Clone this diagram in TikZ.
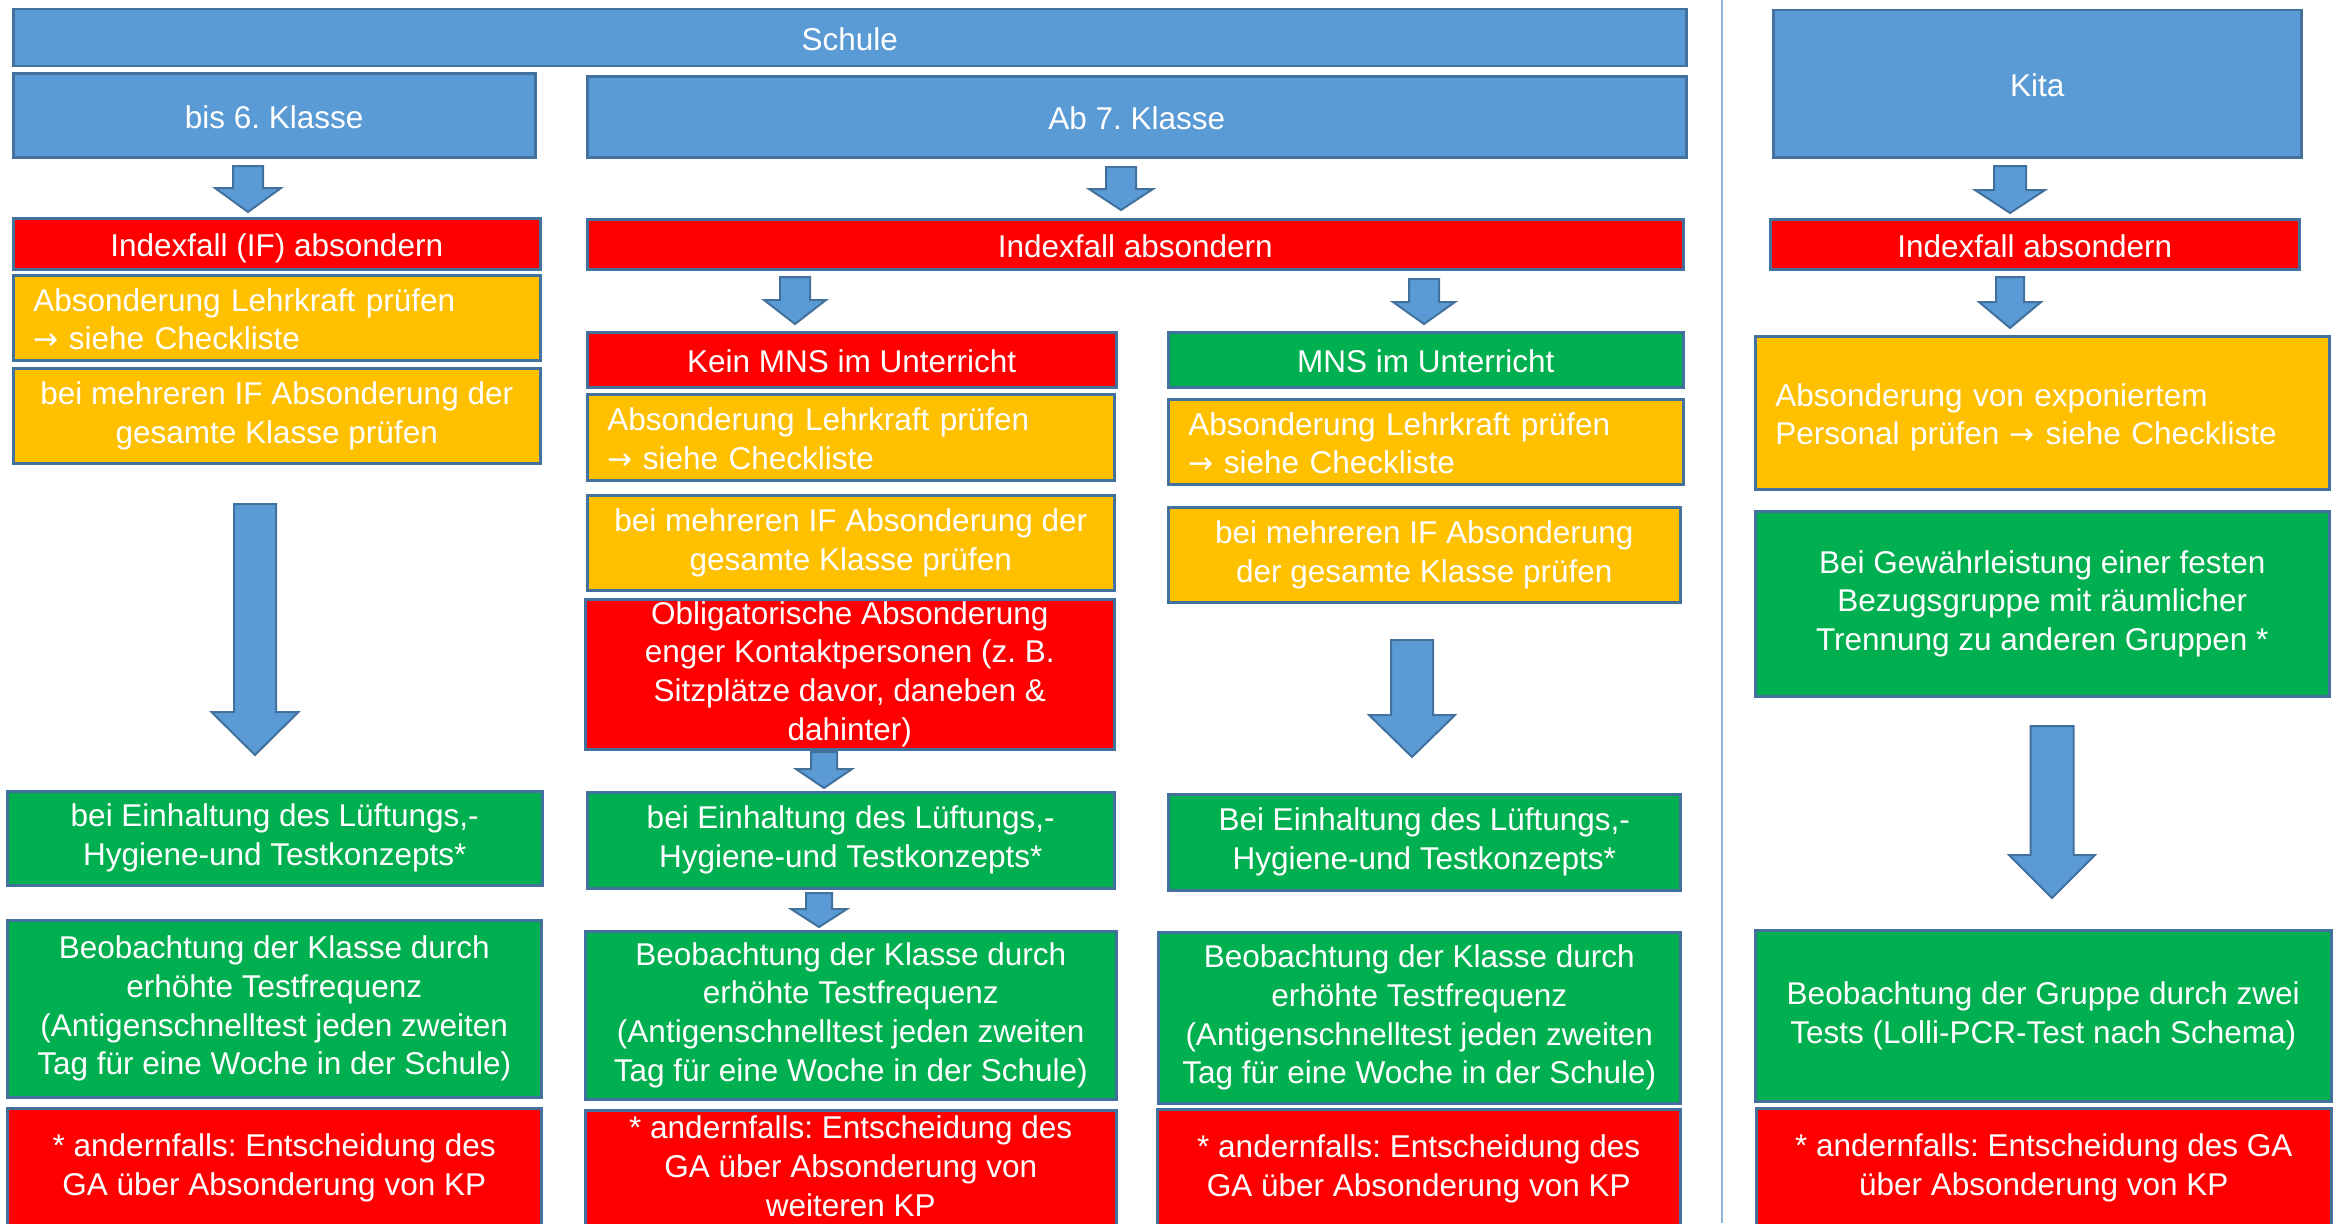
\documentclass[tikz,border=0pt]{standalone}
\usepackage{fontspec}
\setmainfont{Liberation Sans}
\newfontfamily\symfont{DejaVu Sans}
\newcommand\rarr{{\symfont\fontsize{30}{38.7}\selectfont →}}
\newcommand\pptstruttop{\vrule height 1.03em depth 0pt width 0pt\relax}
\newcommand\pptstrutbot{\vrule height 0pt depth 0.212em width 0pt\relax}
\definecolor{bblue}{HTML}{5B9BD5}
\definecolor{bord}{HTML}{41719C}
\definecolor{bred}{HTML}{FF0000}
\definecolor{borange}{HTML}{FFC000}
\definecolor{bgreen}{HTML}{00B050}
\definecolor{sepc}{HTML}{8FB4E0}
\newcommand\dnarrow[6]{%
  \draw[blockarrow] ({#1-#5},#2) -- ({#1+#5},#2) -- ({#1+#5},#3) -- ({#1+#6},#3)
    -- (#1,#4) -- ({#1-#6},#3) -- ({#1-#5},#3) -- cycle;}
\begin{document}
\begin{tikzpicture}[x=1pt,y=-1pt,
  box/.style={draw=bord, line width=2.5pt, text=white, inner sep=0pt,
    anchor=north west, align=center, font=\fontsize{31.5}{38.7}\selectfont\frenchspacing,
    execute at begin node=\pptstruttop, execute at end node=\pptstrutbot},
  bluebox/.style={box, fill=bblue},
  redbox/.style={box, fill=bred},
  orbox/.style={box, fill=borange},
  grbox/.style={box, fill=bgreen},
  lefttext/.style={align=left, inner xsep=20pt},
  blockarrow/.style={fill=bblue, draw=bord, line width=2pt, line join=miter},
  sepline/.style={draw=sepc, line width=2pt}
]
\useasboundingbox (0,0) rectangle (2333,1223);
\clip (0,0) rectangle (2333,1223);
\fill[white] (0,0) rectangle (2333,1223);

% separator
\coordinate (septop) at (1722,0);
\coordinate (sepbot) at (1722,1223);
\draw[sepline] (septop) -- (sepbot);

% headers
\node[bluebox, minimum width=1673pt, minimum height=57pt] (schule) at (12,8) {Schule};
\node[bluebox, minimum width=522pt, minimum height=84pt] (bis6) at (12,72) {bis 6. Klasse};
\node[bluebox, minimum width=1099pt, minimum height=81pt] (ab7) at (586,75) {Ab 7. Klasse};
\node[bluebox, minimum width=528pt, minimum height=147pt] (kita) at (1772,9) {Kita};

% column A
\node[redbox, minimum width=527pt, minimum height=51pt] (ifA) at (12,217) {Indexfall (IF) absondern};
\node[orbox, lefttext, text width=487pt, minimum height=85pt] (lehrA) at (12,274) {Absonderung Lehrkraft prüfen\\\rarr\ siehe Checkliste};
\node[orbox, minimum width=527pt, minimum height=95pt] (mehrA) at (12,367) {bei mehreren IF Absonderung der\\gesamte Klasse prüfen};
\node[grbox, minimum width=535pt, minimum height=94pt] (einhA) at (6,790) {bei Einhaltung des Lüftungs,-\\Hygiene-und Testkonzepts*};
\node[grbox, minimum width=534pt, minimum height=177pt] (beobA) at (6,919) {Beobachtung der Klasse durch\\erhöhte Testfrequenz\\(Antigenschnelltest jeden zweiten\\Tag für eine Woche in der Schule)};
\node[redbox, minimum width=534pt, minimum height=120pt] (andA) at (6,1107) {* andernfalls: Entscheidung des\\GA über Absonderung von KP};

% column B
\node[redbox, minimum width=1096pt, minimum height=50pt] (ifB) at (586,218) {Indexfall absondern};
\node[redbox, minimum width=529pt, minimum height=55pt] (keinB) at (586,331) {Kein MNS im Unterricht};
\node[orbox, lefttext, text width=487pt, minimum height=86pt] (lehrB) at (586,393) {Absonderung Lehrkraft prüfen\\\rarr\ siehe Checkliste};
\node[orbox, minimum width=527pt, minimum height=95pt] (mehrB) at (586,494) {bei mehreren IF Absonderung der\\gesamte Klasse prüfen};
\node[redbox, minimum width=529pt, minimum height=150pt] (obligB) at (584,598) {Obligatorische Absonderung\\enger Kontaktpersonen (z. B.\\Sitzplätze davor, daneben \&\\dahinter)};
\node[grbox, minimum width=527pt, minimum height=96pt] (einhB) at (586,791) {bei Einhaltung des Lüftungs,-\\Hygiene-und Testkonzepts*};
\node[grbox, minimum width=531pt, minimum height=168pt] (beobB) at (584,930) {Beobachtung der Klasse durch\\erhöhte Testfrequenz\\(Antigenschnelltest jeden zweiten\\Tag für eine Woche in der Schule)};
\node[redbox, minimum width=531pt, minimum height=118pt] (andB) at (584,1109) {* andernfalls: Entscheidung des\\GA über Absonderung von\\weiteren KP};

% column C
\node[grbox, minimum width=515pt, minimum height=55pt] (mnsC) at (1167,331) {MNS im Unterricht};
\node[orbox, lefttext, text width=475pt, minimum height=85pt] (lehrC) at (1167,398) {Absonderung Lehrkraft prüfen\\\rarr\ siehe Checkliste};
\node[orbox, minimum width=512pt, minimum height=95pt] (mehrC) at (1167,506) {bei mehreren IF Absonderung\\der gesamte Klasse prüfen};
\node[grbox, minimum width=512pt, minimum height=96pt] (einhC) at (1167,793) {Bei Einhaltung des Lüftungs,-\\Hygiene-und Testkonzepts*};
\node[grbox, minimum width=522pt, minimum height=171pt] (beobC) at (1157,931) {Beobachtung der Klasse durch\\erhöhte Testfrequenz\\(Antigenschnelltest jeden zweiten\\Tag für eine Woche in der Schule)};
\node[redbox, minimum width=523pt, minimum height=119pt] (andC) at (1156,1108) {* andernfalls: Entscheidung des\\GA über Absonderung von KP};

% column D (Kita)
\node[redbox, minimum width=529pt, minimum height=50pt] (ifD) at (1769,218) {Indexfall absondern};
\node[orbox, lefttext, text width=534pt, minimum height=153pt] (expD) at (1754,335) {Absonderung von exponiertem\\Personal prüfen \rarr\ siehe Checkliste};
\node[grbox, minimum width=574pt, minimum height=185pt] (gewD) at (1754,510) {Bei Gewährleistung einer festen\\Bezugsgruppe mit räumlicher\\Trennung zu anderen Gruppen *};
\node[grbox, minimum width=576pt, minimum height=171pt] (beobD) at (1754,929) {Beobachtung der Gruppe durch zwei\\Tests (Lolli-PCR-Test nach Schema)};
\node[redbox, minimum width=575pt, minimum height=120pt] (andD) at (1755,1107) {* andernfalls: Entscheidung des GA\\über Absonderung von KP};

% block arrows: cx, top, head base, tip, shaft half width, head half width
\dnarrow{248}{166}{188}{212}{15}{33}
\dnarrow{1121}{167}{189}{210}{15}{32}
\dnarrow{795}{277}{300}{324}{15}{31}
\dnarrow{1424}{279}{302}{324}{15}{31}
\dnarrow{255}{504}{712}{755}{21}{43.5}
\dnarrow{824}{752}{769}{788}{13}{28}
\dnarrow{819}{893}{909}{927}{13}{28}
\dnarrow{1412}{640}{715}{757}{21}{43}
\dnarrow{2010}{166}{190}{213}{16}{35}
\dnarrow{2010}{277}{302}{328}{14}{31}
\dnarrow{2052}{726}{855}{898}{21.5}{43}
\end{tikzpicture}
\end{document}
